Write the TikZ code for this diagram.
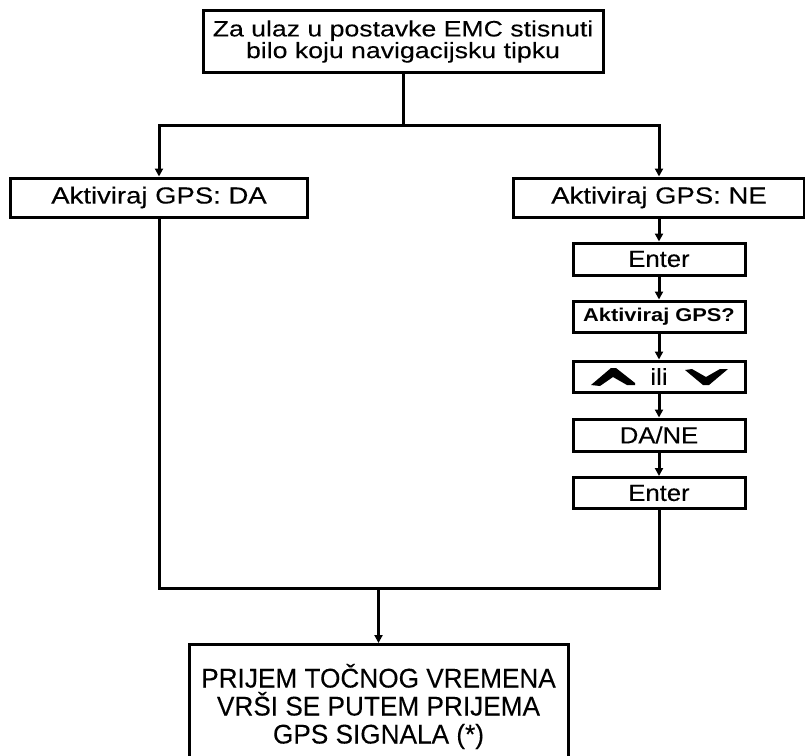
\documentclass[tikz,border=0pt]{standalone}
\usepackage{fontspec}
\setmainfont{Liberation Sans}
\newfontfamily\fnA[FakeStretch=1.2,FakeBold=0.15]{Liberation Sans}
\newfontfamily\fnB[FakeStretch=1.18,FakeBold=0.15]{Liberation Sans}
\newfontfamily\fnQ[FakeStretch=1.18]{Liberation Sans}
\newfontfamily\fnC[FakeStretch=1.1,FakeBold=0.15]{Liberation Sans}
\newfontfamily\fnD[FakeStretch=0.97,FakeBold=0.15]{Liberation Sans}
\usetikzlibrary{arrows.meta}
\begin{document}
\begin{tikzpicture}[x=1pt,y=-1pt,
  box/.style={draw,line width=3pt,rectangle,inner sep=0pt},
  conn/.style={line width=3pt},
  arr/.style={conn,-{Triangle[width=8pt,length=8pt]}},
  mid/.style={box,font={\fnB\fontsize{23.3}{23}\selectfont}},
  small/.style={box,minimum width=172pt,font={\fnC\fontsize{23.3}{23}\selectfont}}]
\useasboundingbox (0,0) rectangle (805,755);
\clip (0,0) rectangle (805,755);
\node[box,minimum width=400pt,minimum height=62pt,align=center,
  font={\fnA\fontsize{22.2}{19}\selectfont}] (top) at (403,41.5)
  {Za ulaz u postavke EMC stisnuti\\bilo koju navigacijsku tipku};
\node[mid,minimum width=297pt,minimum height=39pt] (lbox) at (159,197.5) {Aktiviraj GPS: DA};
\node[mid,minimum width=291pt,minimum height=39pt] (rbox) at (659,197.5) {Aktiviraj GPS: NE};
\node[small,minimum height=32pt] (e1) at (659,259) {Enter};
\node[small,minimum height=31pt,font={\fnQ\bfseries\fontsize{18.5}{18.5}\selectfont}] (q) at (659,316.5) {Aktiviraj GPS?};
\node[small,minimum height=31pt] (ili) at (659,376.5) {ili};
\node[small,minimum height=32pt] (dane) at (659,435) {DA/NE};
\node[small,minimum height=31pt] (e2) at (659,493) {Enter};
\node[box,minimum width=379pt,minimum height=124pt,anchor=north,align=center,
  font={\fnD\fontsize{27}{28}\selectfont}] (bot) at (378.5,643)
  {PRIJEM TOČNOG VREMENA\\VRŠI SE PUTEM PRIJEMA\\GPS SIGNALA (*)};
% chevrons
\fill (591,385) -- (611,368) -- (616,368) -- (635,383) -- (635,385) -- (627,385) -- (613,377) -- (600,386) -- cycle;
\fill (685,370) -- (692,369) -- (706,377) -- (720,369) -- (728,369) -- (709,385) -- (703,385) -- cycle;
% connectors
\coordinate (split) at (403,125);
\coordinate (jl) at (159,588);
\coordinate (jr) at (659,588);
\coordinate (jm) at (378.5,588);
\draw[conn] (top.south) -- (split);
\draw[arr] (split) -| (lbox.north);
\draw[arr] (split) -| (rbox.north);
\draw[arr] (rbox) -- (e1);
\draw[arr] (e1) -- (q);
\draw[arr] (q) -- (ili);
\draw[arr] (ili) -- (dane);
\draw[arr] (dane) -- (e2);
\draw[conn] (lbox.south) -- (jl) -- (jr) -- (e2.south);
\draw[arr] (jm) -- (bot.north);
\end{tikzpicture}
\end{document}
